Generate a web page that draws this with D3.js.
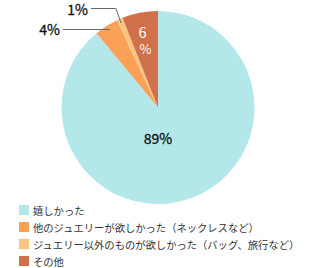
<!DOCTYPE html>
<html>
<head>
<meta charset="utf-8">
<script src="https://cdn.jsdelivr.net/npm/d3@7"></script>
<style>
  body { margin: 0; background: #fff; }
  svg { display: block; font-family: "Noto Sans CJK JP", "Noto Sans", sans-serif; }
</style>
</head>
<body>
<svg id="chart" width="314" height="268"></svg>
<script>
// données du camembert
var labels = ["嬉しかった", "他のジュエリーが欲しかった（ネックレスなど）", "ジュエリー以外のものが欲しかった（バッグ、旅行など）", "その他"];
var values = [89, 4, 1, 6];
var colors = ["#b3e7ea", "#fba157", "#fdc380", "#d0714b"];

var width = 314, height = 268;
var cx = 158, cy = 107.5, r = 96.5;

var svg = d3.select("#chart");

var data = labels.map((d, i) => ({ name: d, value: values[i], color: colors[i] }));

const pie = d3.pie().sort(null).value(d => d.value);
const arc = d3.arc().innerRadius(0).outerRadius(r);
var arcs = pie(data);

var g = svg.append("g").attr("transform", `translate(${cx},${cy})`);

g.selectAll("path")
  .data(arcs)
  .join("path")
  .attr("fill", d => d.data.color)
  .attr("d", arc);

// étiquettes
var fmt = d => d.data.value + "%";

// 89% au centre de la grande part
g.append("text")
  .attr("x", 0)
  .attr("y", 36)
  .attr("text-anchor", "middle")
  .attr("font-size", 14)
  .attr("fill", "#111")
  .attr("stroke", "#111").attr("stroke-width", 0.3)
  .text(fmt(arcs[0]));

// 6% en blanc, sur deux lignes
var a6 = d3.arc().innerRadius(r * 0.8).outerRadius(r * 0.8).centroid(arcs[3]);
var t6 = g.append("text")
  .attr("text-anchor", "middle")
  .attr("font-size", 14.5)
  .attr("fill", "#fff");
t6.append("tspan").attr("x", a6[0] - 1).attr("y", a6[1] + 6).text(arcs[3].data.value);
t6.append("tspan").attr("x", a6[0] + 2).attr("y", a6[1] + 22).attr("font-size", 13).text("%");

// 4% avec ligne
g.append("polyline")
  .attr("points", [[63 - cx, 29.5 - cy], [110 - cx, 29.5 - cy]].map(p => p.join(",")).join(" "))
  .attr("fill", "none").attr("stroke", "#666").attr("stroke-width", 1);
g.append("text")
  .attr("x", 60 - cx).attr("y", 35 - cy)
  .attr("text-anchor", "end")
  .attr("font-size", 14).attr("fill", "#111")
  .attr("stroke", "#111").attr("stroke-width", 0.3)
  .text(fmt(arcs[1]));

// 1% avec ligne coudée
g.append("polyline")
  .attr("points", [[91 - cx, 8.5 - cy], [116 - cx, 8.5 - cy], [121 - cx, 23 - cy]].map(p => p.join(",")).join(" "))
  .attr("fill", "none").attr("stroke", "#666").attr("stroke-width", 1);
g.append("text")
  .attr("x", 88 - cx).attr("y", 15 - cy)
  .attr("text-anchor", "end")
  .attr("font-size", 14).attr("fill", "#111")
  .attr("stroke", "#111").attr("stroke-width", 0.3)
  .text(fmt(arcs[2]));

// légende
var legend = svg.append("g").attr("transform", "translate(19,205)");
var rows = legend.selectAll("g")
  .data(data)
  .join("g")
  .attr("transform", (d, i) => `translate(0,${i * 17})`);
rows.append("rect").attr("width", 10).attr("height", 10).attr("fill", d => d.color);
rows.append("text")
  .attr("x", 14).attr("y", 9.5)
  .attr("font-size", 10.3).attr("fill", "#333")
  .text(d => d.name);
</script>
</body>
</html>
